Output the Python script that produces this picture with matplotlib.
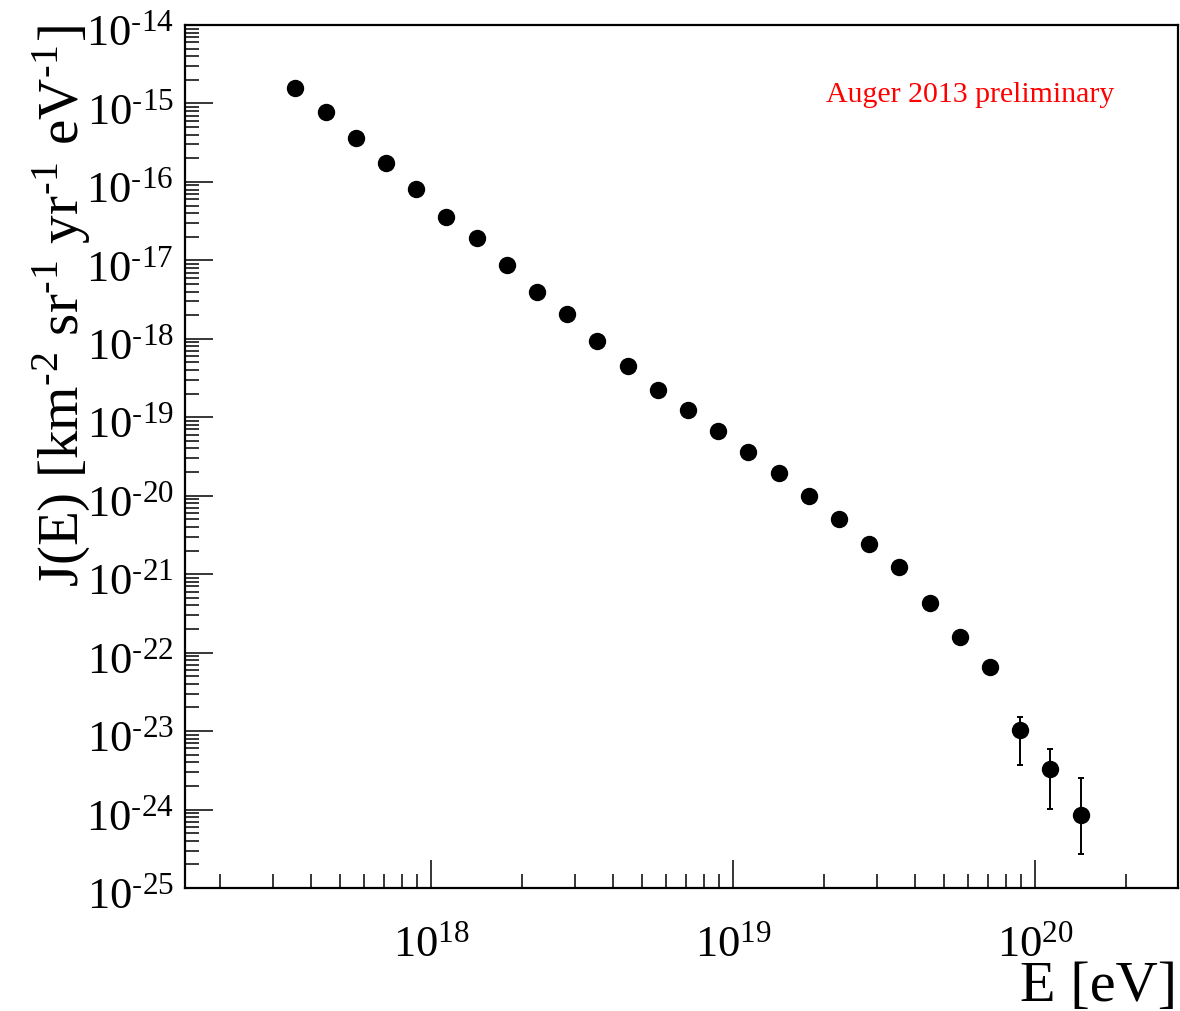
import numpy as np
import matplotlib
matplotlib.use("Agg")
import matplotlib.pyplot as plt
import matplotlib.transforms as mtransforms
from matplotlib.ticker import LogLocator, FixedLocator, NullFormatter, FuncFormatter

# ---- data ----
log_energy = [17.55, 17.65, 17.75, 17.85, 17.95, 18.05, 18.15, 18.25, 18.35,
              18.45, 18.55, 18.65, 18.75, 18.85, 18.95, 19.05, 19.15, 19.25,
              19.35, 19.45, 19.55, 19.65, 19.75, 19.85, 19.95, 20.05, 20.15]
flux = [1.58e-15, 7.76e-16, 3.61e-16, 1.72e-16, 8.07e-17, 3.62e-17, 1.95e-17,
        8.65e-18, 3.99e-18, 2.05e-18, 9.46e-19, 4.49e-19, 2.22e-19, 1.22e-19,
        6.59e-20, 3.59e-20, 1.94e-20, 9.84e-21, 5.07e-21, 2.43e-21, 1.22e-21,
        4.25e-22, 1.56e-22, 6.55e-23, 1.04e-23, 3.27e-24, 8.61e-25]
flux_err_up = [0]*24 + [1.52e-23, 5.98e-24, 2.51e-24]
flux_err_low = [0]*24 + [3.71e-24, 1.03e-24, 2.69e-25]
label_text = "Auger 2013 preliminary"

plt.rcParams['mathtext.fontset'] = 'stix'
plt.rcParams['font.family'] = ['Liberation Serif', 'DejaVu Serif']

fig = plt.figure(figsize=(11.8, 10.12), dpi=100)
ax = fig.add_axes([185/1180, 1-889/1012, (1178-185)/1180, (889-26)/1012])

E = 10**np.array(log_energy)
J = np.array(flux)
up = np.array(flux_err_up)
lo = np.array(flux_err_low)
yerr = np.vstack([np.where(lo > 0, J - lo, 0), np.where(up > 0, up - J, 0)])
has = up > 0
ax.errorbar(E[has], J[has], yerr=yerr[:, has], fmt='none', ecolor='black',
            elinewidth=1.4, capsize=2.2, capthick=1.4, zorder=2)
ax.plot(E, J, 'o', color='black', markersize=11.5, zorder=3)

ax.set_xscale('log')
ax.set_yscale('log')
ax.set_xlim(1.53e17, 2.97e20)
ax.set_ylim(1e-25, 1e-14)

ax.xaxis.set_major_locator(FixedLocator([1e18, 1e19, 1e20]))
ax.xaxis.set_minor_locator(LogLocator(base=10, subs=np.arange(2, 10), numticks=20))
ax.yaxis.set_major_locator(LogLocator(base=10, numticks=20))
ax.yaxis.set_minor_locator(LogLocator(base=10, subs=np.arange(2, 10), numticks=20))
ax.xaxis.set_minor_formatter(NullFormatter())
ax.yaxis.set_minor_formatter(NullFormatter())

def fmt(v, pos):
    e = int(round(np.log10(v)))
    if e < 0:
        return r"$\mathregular{10^{\text{-}%d}}$" % (-e)
    return r"$\mathregular{10^{%d}}$" % e

ax.xaxis.set_major_formatter(FuncFormatter(fmt))
ax.yaxis.set_major_formatter(FuncFormatter(fmt))

ax.tick_params(axis='both', which='major', direction='in', length=20, width=1.1,
               labelsize=32, top=False, right=False)
ax.tick_params(axis='both', which='minor', direction='in', length=10, width=1.1,
               top=False, right=False)
ax.tick_params(axis='y', which='major', pad=8)
ax.tick_params(axis='x', which='major', pad=26)
for s in ax.spines.values():
    s.set_linewidth(1.6)

# shift y tick labels slightly down, as in the reference
offset = mtransforms.ScaledTranslation(0, -4/100, fig.dpi_scale_trans)
for lbl in ax.get_yticklabels():
    lbl.set_transform(lbl.get_transform() + offset)

ylab = r"J(E) [km$^{\mathregular{\text{-}2}}$ sr$^{\mathregular{\text{-}1}}$ yr$^{\mathregular{\text{-}1}}$ eV$^{\mathregular{\text{-}1}}$]"
fig.text(79/1180, 1-25/1012, ylab, rotation=90, rotation_mode='anchor',
         ha='right', va='baseline', fontsize=41)
fig.text(1177/1180, 1-1001/1012, "E [eV]", ha='right', va='baseline', fontsize=42)

fig.text(970/1180, 1-95/1012, label_text, color='red',
         fontsize=21.5, ha='center', va='center')

fig.savefig("out.png", dpi=100)
